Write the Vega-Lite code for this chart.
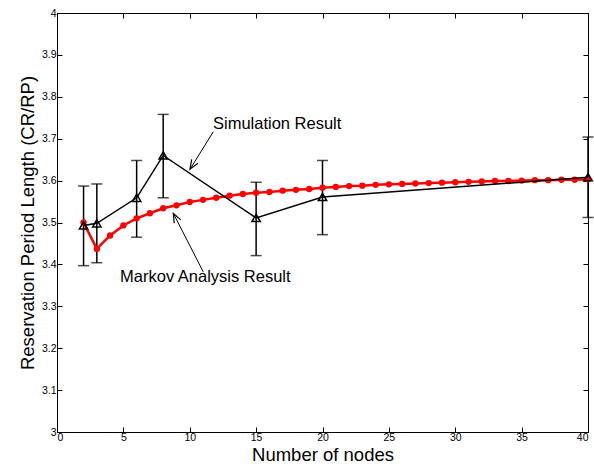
{
  "$schema": "https://vega.github.io/schema/vega-lite/v6.json",
  "width": 531,
  "height": 419,
  "autosize": {"type": "none"},
  "padding": {"left": 57, "top": 13, "right": 6, "bottom": 34},
  "background": "white",
  "config": {
    "view": {"stroke": "black", "strokeWidth": 1},
    "font": "Liberation Sans",
    "axis": {
      "grid": false,
      "domainColor": "black",
      "tickColor": "black",
      "labelColor": "black",
      "titleColor": "black",
      "labelFont": "Liberation Sans",
      "titleFont": "Liberation Sans",
      "labelFontSize": 10.5,
      "titleFontSize": 18.5,
      "titleFontWeight": "normal",
      "tickSize": -5,
      "labelPadding": 5
    }
  },
  "datasets": {
    "sim": [
      {"n": 2, "mean": 3.493, "lo": 3.397, "hi": 3.587},
      {"n": 3, "mean": 3.498, "lo": 3.404, "hi": 3.592},
      {"n": 6, "mean": 3.559, "lo": 3.465, "hi": 3.648},
      {"n": 8, "mean": 3.660, "lo": 3.559, "hi": 3.758},
      {"n": 15, "mean": 3.511, "lo": 3.421, "hi": 3.596},
      {"n": 20, "mean": 3.561, "lo": 3.471, "hi": 3.648},
      {"n": 40, "mean": 3.608, "lo": 3.512, "hi": 3.704}
    ],
    "markov": [
      {"n": 2, "v": 3.500}, {"n": 3, "v": 3.437}, {"n": 4, "v": 3.469}, {"n": 5, "v": 3.493},
      {"n": 6, "v": 3.510}, {"n": 7, "v": 3.522}, {"n": 8, "v": 3.534}, {"n": 9, "v": 3.541},
      {"n": 10, "v": 3.549}, {"n": 11, "v": 3.554}, {"n": 12, "v": 3.559}, {"n": 13, "v": 3.564},
      {"n": 14, "v": 3.568}, {"n": 15, "v": 3.571}, {"n": 16, "v": 3.573}, {"n": 17, "v": 3.576},
      {"n": 18, "v": 3.578}, {"n": 19, "v": 3.580}, {"n": 20, "v": 3.583}, {"n": 21, "v": 3.585},
      {"n": 22, "v": 3.587}, {"n": 23, "v": 3.588}, {"n": 24, "v": 3.590}, {"n": 25, "v": 3.591},
      {"n": 26, "v": 3.592}, {"n": 27, "v": 3.593}, {"n": 28, "v": 3.594}, {"n": 29, "v": 3.595},
      {"n": 30, "v": 3.596}, {"n": 31, "v": 3.597}, {"n": 32, "v": 3.598}, {"n": 33, "v": 3.599},
      {"n": 34, "v": 3.599}, {"n": 35, "v": 3.600}, {"n": 36, "v": 3.601}, {"n": 37, "v": 3.601},
      {"n": 38, "v": 3.602}, {"n": 39, "v": 3.602}, {"n": 40, "v": 3.603}
    ],
    "arrows": [
      {"id": "sim", "x": 11.77, "y": 3.7165},
      {"id": "sim", "x": 10.02, "y": 3.627},
      {"id": "mk", "x": 11.02, "y": 3.382},
      {"id": "mk", "x": 8.76, "y": 3.522}
    ],
    "heads": [
      {"id": "sim", "x": 10.20, "y": 3.6365, "ang": 212},
      {"id": "mk", "x": 8.92, "y": 3.512, "ang": 333}
    ],
    "labels": [
      {"x": 11.75, "y": 3.7165, "t": "Simulation Result"},
      {"x": 4.75, "y": 3.3515, "t": "Markov Analysis Result"}
    ]
  },
  "resolve": {"axis": {"x": "independent", "y": "independent"}},
  "layer": [
    {
      "layer": [
        {
          "data": {"name": "sim"},
          "mark": {"type": "rule", "color": "black", "strokeWidth": 1.5},
          "encoding": {
            "x": {"field": "n", "type": "quantitative", "scale": {"domain": [0, 40], "nice": false},
                  "axis": {"orient": "bottom", "values": [0,5,10,15,20,25,30,35,40], "title": "Number of nodes", "titlePadding": 3}},
            "y": {"field": "lo", "type": "quantitative", "scale": {"domain": [3, 4], "nice": false, "zero": false},
                  "axis": {"orient": "left", "values": [3,3.1,3.2,3.3,3.4,3.5,3.6,3.7,3.8,3.9,4], "format": ".1~f", "title": "Reservation Period Length (CR/RP)", "titlePadding": 4, "labelPadding": 6}},
            "y2": {"field": "hi"}
          }
        },
        {
          "data": {"name": "sim"},
          "mark": {"type": "tick", "orient": "horizontal", "color": "black", "size": 11, "thickness": 1.5},
          "encoding": {
            "x": {"field": "n", "type": "quantitative"},
            "y": {"field": "lo", "type": "quantitative"}
          }
        },
        {
          "data": {"name": "sim"},
          "mark": {"type": "tick", "orient": "horizontal", "color": "black", "size": 11, "thickness": 1.5},
          "encoding": {
            "x": {"field": "n", "type": "quantitative"},
            "y": {"field": "hi", "type": "quantitative"}
          }
        },
        {
          "data": {"name": "markov"},
          "mark": {"type": "line", "color": "#ff0000", "strokeWidth": 2.5, "point": {"filled": true, "color": "#ff0000", "size": 40, "opacity": 1}},
          "encoding": {
            "x": {"field": "n", "type": "quantitative"},
            "y": {"field": "v", "type": "quantitative"}
          }
        },
        {
          "data": {"name": "sim"},
          "mark": {"type": "line", "color": "black", "strokeWidth": 1.5},
          "encoding": {
            "x": {"field": "n", "type": "quantitative"},
            "y": {"field": "mean", "type": "quantitative"}
          }
        },
        {
          "data": {"name": "sim"},
          "mark": {"type": "point", "shape": "triangle-up", "filled": false, "color": "black", "strokeWidth": 1.5, "size": 70, "opacity": 1},
          "encoding": {
            "x": {"field": "n", "type": "quantitative"},
            "y": {"field": "mean", "type": "quantitative"}
          }
        },
        {
          "data": {"name": "arrows"},
          "mark": {"type": "line", "color": "black", "strokeWidth": 1},
          "encoding": {
            "x": {"field": "x", "type": "quantitative"},
            "y": {"field": "y", "type": "quantitative"},
            "detail": {"field": "id"}
          }
        },
        {
          "data": {"name": "heads"},
          "mark": {"type": "point", "shape": "M-0.8,1L0,-1L0.8,1", "filled": false, "fill": null, "stroke": "black", "strokeWidth": 1.2, "size": 85, "opacity": 1},
          "encoding": {
            "x": {"field": "x", "type": "quantitative"},
            "y": {"field": "y", "type": "quantitative"},
            "angle": {"field": "ang", "type": "quantitative", "scale": null}
          }
        },
        {
          "data": {"name": "labels"},
          "mark": {"type": "text", "align": "left", "baseline": "bottom", "fontSize": 16.5, "font": "Liberation Sans", "color": "black"},
          "encoding": {
            "x": {"field": "x", "type": "quantitative"},
            "y": {"field": "y", "type": "quantitative"},
            "text": {"field": "t"}
          }
        }
      ]
    },
    {
      "data": {"values": [{"n": 0, "v": 3}]},
      "mark": {"type": "point", "opacity": 0},
      "encoding": {
        "x": {"field": "n", "type": "quantitative", "scale": {"domain": [0, 40], "nice": false},
              "axis": {"orient": "top", "values": [0,5,10,15,20,25,30,35,40], "labels": false, "title": null}},
        "y": {"field": "v", "type": "quantitative", "scale": {"domain": [3, 4], "nice": false, "zero": false},
              "axis": {"orient": "right", "values": [3,3.1,3.2,3.3,3.4,3.5,3.6,3.7,3.8,3.9,4], "labels": false, "title": null}}
      }
    }
  ]
}
